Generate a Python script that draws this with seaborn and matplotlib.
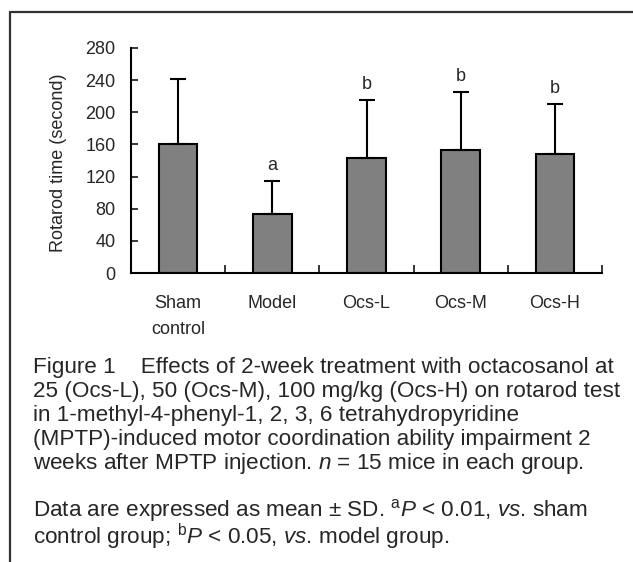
import matplotlib
matplotlib.use("Agg")
import matplotlib.pyplot as plt
from matplotlib.lines import Line2D
import seaborn as sns
import pandas as pd

groups = ["Sham\ncontrol", "Model", "Ocs-L", "Ocs-M", "Ocs-H"]
means = [160, 73, 143, 153, 148]
sds = [82, 42, 72, 72, 62]
marks = ["", "a", "b", "b", "b"]
yticks = [0, 40, 80, 120, 160, 200, 240, 280]

caption = [
    "Figure 1    Effects of 2-week treatment with octacosanol at",
    "25 (Ocs-L), 50 (Ocs-M), 100 mg/kg (Ocs-H) on rotarod test",
    "in 1-methyl-4-phenyl-1, 2, 3, 6 tetrahydropyridine",
    "(MPTP)-induced motor coordination ability impairment 2",
    r"weeks after MPTP injection. $\mathit{n}$ = 15 mice in each group.",
]
note = [
    r"Data are expressed as mean ± SD. ${}^{\mathrm{a}}\mathit{P}$ < 0.01, $\mathit{vs}$. sham",
    r"control group; ${}^{\mathrm{b}}\mathit{P}$ < 0.05, $\mathit{vs}$. model group.",
]

sns.set_style("ticks")
plt.rcParams["font.family"] = ["Liberation Sans", "DejaVu Sans"]
plt.rcParams["mathtext.fontset"] = "custom"
plt.rcParams["mathtext.rm"] = "Liberation Sans"
plt.rcParams["mathtext.it"] = "Liberation Sans:italic"

W, H = 633, 562
fig = plt.figure(figsize=(W / 100, H / 100), dpi=100)
ax = fig.add_axes([131 / W, 1 - 273 / H, 471 / W, 225 / H])

df = pd.DataFrame({"group": groups, "mean": means})
sns.barplot(data=df, x="group", y="mean", ax=ax, width=0.41, color="#808080",
            saturation=1, edgecolor="black", linewidth=1.5, errorbar=None)

xs = range(len(groups))
ax.errorbar(xs, means, yerr=[[0] * len(sds), sds], fmt="none", ecolor="black",
            elinewidth=1.5, capsize=5.5, capthick=1.5, zorder=1)
for x, m, s, t in zip(xs, means, sds, marks):
    if t:
        ax.annotate(t, (x, m + s), xytext=(0, 5), textcoords="offset points",
                    ha="center", va="bottom", fontsize=13)

ax.set_xlim(-0.5, len(groups) - 0.5)
ax.set_ylim(0, 280)
ax.set_yticks(yticks)
ax.set_xticks(list(xs))
ax.set_xticks([i + 0.5 for i in xs], minor=True)
ax.tick_params(axis="x", which="major", length=0, pad=16, labelsize=13)
ax.tick_params(axis="x", which="minor", direction="in", length=6, width=1.3)
ax.tick_params(axis="y", direction="in", length=5, width=1.3, pad=11, labelsize=13)
for lbl in ax.get_xticklabels():
    lbl.set_verticalalignment("top")
    lbl.set_linespacing(1.65)

ax.set_xlabel("")
ax.set_ylabel("Rotarod time (second)", fontsize=13)
ax.yaxis.set_label_coords(-0.135, 0.49)
sns.despine(ax=ax)
for sp in ["left", "bottom"]:
    ax.spines[sp].set_linewidth(1.5)
    ax.spines[sp].set_color("black")

# caption text below the chart
for i, line in enumerate(caption):
    fig.text(33 / W, 1 - (373 + 24 * i) / H, line, fontsize=16.2, va="baseline", ha="left")
# note block: baseline refers to its last line here
fig.text(33 / W, 1 - 544 / H, "\n".join(note), fontsize=16.2, va="baseline",
         ha="left", linespacing=0.88)

# outer frame (left and top edges)
fig.add_artist(Line2D([10 / W, 10 / W], [0, 1 - 12 / H], color="#333333", lw=1.6))
fig.add_artist(Line2D([10 / W, 1], [1 - 12 / H, 1 - 12 / H], color="#333333", lw=1.6))

fig.savefig("out.png", dpi=100)
